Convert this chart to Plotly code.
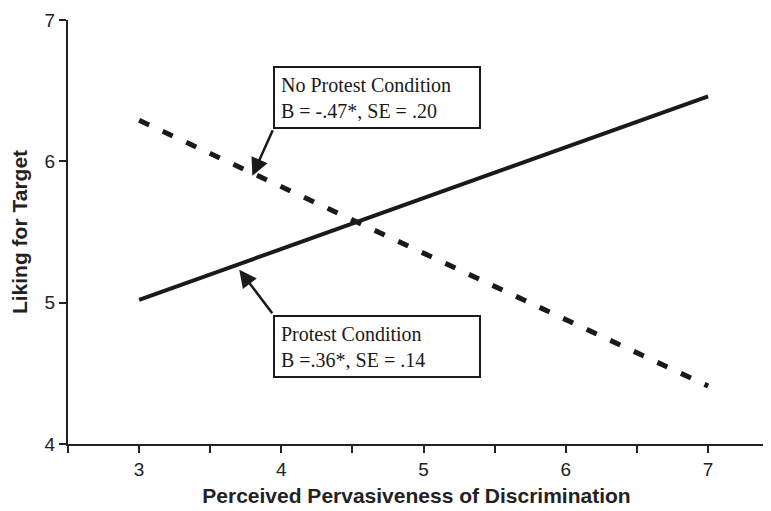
import plotly.graph_objects as go

x_vals = [3, 7]
no_protest = [6.29, 4.41]
protest = [5.02, 6.46]

x_ticks = [2.5, 3, 3.5, 4, 4.5, 5, 5.5, 6, 6.5, 7]
x_tick_text = ["", "3", "", "4", "", "5", "", "6", "", "7"]
y_ticks = [4, 5, 6, 7]

label_np = "No Protest Condition<br>B = -.47*, SE = .20"
label_p = "Protest Condition<br>B =.36*, SE = .14"

fig = go.Figure()
fig.add_trace(go.Scatter(x=x_vals, y=no_protest, mode="lines",
                         line=dict(color="#1a1a1a", width=5, dash="11px,15px"),
                         showlegend=False))
fig.add_trace(go.Scatter(x=x_vals, y=protest, mode="lines",
                         line=dict(color="#1a1a1a", width=4),
                         showlegend=False))

box_font = dict(family="Liberation Serif, Times New Roman, serif", size=20, color="#1a1a1a")
fig.add_annotation(x=3.944, y=6.675, xref="x", yref="y", xanchor="left", yanchor="top",
                   text=label_np, showarrow=False, align="left", font=box_font,
                   bordercolor="#1a1a1a", borderwidth=2, borderpad=6, bgcolor="white",
                   width=192, height=47)
fig.add_annotation(x=3.944, y=4.915, xref="x", yref="y", xanchor="left", yanchor="top",
                   text=label_p, showarrow=False, align="left", font=box_font,
                   bordercolor="#1a1a1a", borderwidth=2, borderpad=6, bgcolor="white",
                   width=192, height=47)
# arrows
fig.add_annotation(x=3.796, y=5.898, ax=3.944, ay=6.23, xref="x", yref="y", axref="x", ayref="y",
                   text="", showarrow=True, arrowhead=2, arrowsize=1.4, arrowwidth=2.5,
                   arrowcolor="#1a1a1a")
fig.add_annotation(x=3.704, y=5.233, ax=3.944, ay=4.915, xref="x", yref="y", axref="x", ayref="y",
                   text="", showarrow=True, arrowhead=2, arrowsize=1.4, arrowwidth=2.5,
                   arrowcolor="#1a1a1a")

tick_font = dict(family="Liberation Sans, Arial, sans-serif", size=19, color="#222")
title_font = dict(family="Liberation Sans, Arial, sans-serif", size=21, color="#222")
fig.update_xaxes(range=[2.5, 7.4], tickmode="array", tickvals=x_ticks, ticktext=x_tick_text,
                 ticks="outside", ticklen=7, tickwidth=2, tickcolor="#222",
                 showline=True, linecolor="#222", linewidth=2, showgrid=False, zeroline=False,
                 tickfont=tick_font, automargin=False,
                 title=dict(text="<b>Perceived Pervasiveness of Discrimination</b>",
                            font=title_font, standoff=10))
fig.update_yaxes(range=[4, 7], tickmode="array", tickvals=y_ticks,
                 ticks="outside", ticklen=7, tickwidth=2, tickcolor="#222",
                 showline=True, linecolor="#222", linewidth=2, showgrid=False, zeroline=False,
                 tickfont=tick_font, automargin=False,
                 title=dict(text="<b>Liking for Target</b>",
                            font=title_font, standoff=12))
# page body has an 8px margin, so the figure is sized/offset to compensate
fig.update_layout(width=763, height=503, margin=dict(l=60, r=6, t=12, b=67),
                  plot_bgcolor="white", paper_bgcolor="white")
fig.write_html("out.html")
